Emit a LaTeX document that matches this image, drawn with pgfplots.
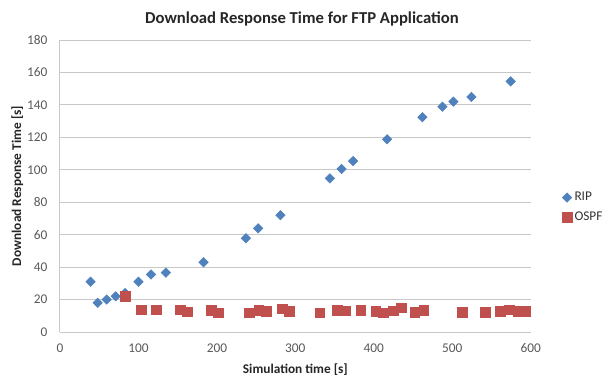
\documentclass[border=0pt]{standalone}
\usepackage{fontspec}
\setmainfont{Carlito}
\usepackage{pgfplots}
\pgfplotsset{compat=1.18}
\definecolor{ripblue}{HTML}{4F81BD}
\definecolor{ospfred}{HTML}{C0504D}
\definecolor{tickgray}{HTML}{595959}
\definecolor{gridgray}{HTML}{C8C8C8}
\begin{document}
\begin{tikzpicture}
\path[use as bounding box] (-45pt,-36pt) rectangle (408pt,249pt);
\begin{axis}[
  at={(0pt,0pt)}, anchor=south west,
  width=353pt, height=219pt, scale only axis,
  xmin=0, xmax=600, ymin=0, ymax=180,
  xtick={0,100,...,600}, ytick={0,20,...,180},
  ymajorgrids, grid style={gridgray, line width=0.75pt},
  axis lines*=left, axis line style={gridgray, line width=0.75pt},
  tick style={draw=none},
  /pgf/number format/assume math mode=true,
  ticklabel style={font=\fontsize{10}{12}\selectfont, text=tickgray},
  yticklabel style={xshift=-6pt},
  xticklabel style={yshift=-5pt},
  xlabel={Simulation time [s]},
  ylabel={Download Response Time [s]},
  every axis x label/.style={at={(axis description cs:0.5,-0.130)}, anchor=center, font=\fontsize{10}{12}\selectfont\bfseries, text=black!85},
  every axis y label/.style={at={(axis description cs:-0.0907,0.5)}, anchor=center, rotate=90, font=\fontsize{10}{12}\selectfont\bfseries, text=black!85},
  title={Download Response Time for FTP Application},
  every axis title/.style={at={(axis description cs:0.514,1.073)}, anchor=center, font=\fontsize{12.5}{14}\selectfont\bfseries, text=black!85},
  legend style={draw=none, fill=none, at={(1.058,0.426)}, anchor=west, font=\fontsize{10}{12}\selectfont, row sep=3pt, text=black!80},
  legend cell align=left,
  legend image code/.code={\draw[#1] plot coordinates {(0.25cm,0cm)};},
]
\addplot[only marks, mark=square*, mark size=2.5pt, mark options={rotate=45, fill=ripblue, draw=ripblue}] coordinates {
(39,31) (48,18) (59.5,20) (71,22) (83,24) (100,31) (116,35.5) (135,36.6)
(183,43) (237,57.8) (252.6,63.9) (281,72) (344,94.7) (359,100.5) (373.6,105.4)
(417,118.8) (462,132.4) (487.5,138.9) (501.5,142) (524.5,144.9) (574.5,154.5)
};
\addlegendentry{RIP}
\addplot[only marks, mark=square*, mark size=3.6pt, mark options={fill=ospfred, draw=ospfred}] coordinates {
(83,22.2) (103.6,13.6) (123,13.8) (153,13.6) (162,12.5) (192.7,13.4) (202,11.9)
(241,11.9) (253.5,13.4) (263,12.9) (283,14.4) (292.6,12.9) (331,11.9)
(353.7,13.4) (364,13.1) (383.4,13.4) (402.5,12.7) (412,11.9) (424.6,13.1)
(435,15) (452,12.1) (463.7,13.4) (512.5,12.1) (542.2,12.1) (561.4,12.7)
(572.4,13.6) (584,12.7) (593.6,12.7)
};
\addlegendentry{OSPF}
\end{axis}
\end{tikzpicture}
\end{document}
